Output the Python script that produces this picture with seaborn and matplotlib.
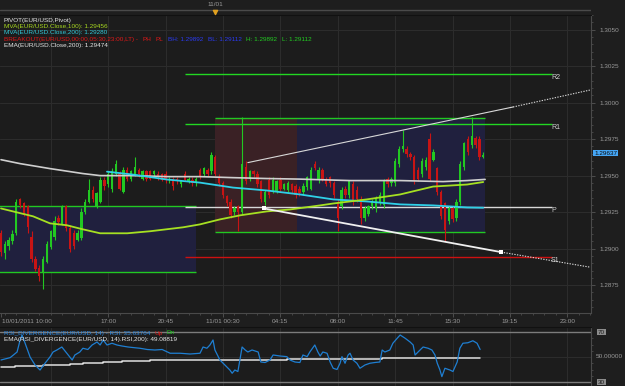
import numpy as np
import pandas as pd
import matplotlib
matplotlib.use("Agg")
import matplotlib.pyplot as plt
import seaborn as sns
from matplotlib.patches import Rectangle

# ---------------- data (15-minute EUR/USD candles, index 0 = 10/01 10:00) ----------------
opens = [1.2911, 1.2897, 1.2902, 1.2905, 1.2911, 1.2934, 1.2931, 1.2929, 1.2908, 1.2893,
         1.2887, 1.2883, 1.2891, 1.2901, 1.2908, 1.2921, 1.2917, 1.2929, 1.2914, 1.2911,
         1.2906, 1.2907, 1.2925, 1.2932, 1.2940, 1.2929, 1.2932, 1.2947, 1.2944, 1.2941,
         1.2951, 1.2951, 1.2939, 1.2954, 1.2948, 1.2951, 1.2954, 1.2948, 1.2953, 1.2953,
         1.2951, 1.2951, 1.2951, 1.2951, 1.2947, 1.2948, 1.2948, 1.2944, 1.2951, 1.2946,
         1.2947, 1.2945, 1.2954, 1.2951, 1.2954, 1.2953, 1.2963, 1.2949, 1.2945, 1.2936,
         1.2932, 1.2925, 1.2929, 1.2925, 1.2956, 1.2948, 1.2953, 1.2951, 1.2946, 1.2932,
         1.2947, 1.2939, 1.2939, 1.2947, 1.2941, 1.2940, 1.2944, 1.2943, 1.2941, 1.2939,
         1.2942, 1.2941, 1.2958, 1.2947, 1.2954, 1.2948, 1.2949, 1.2945, 1.2931, 1.2929,
         1.2941, 1.2937, 1.2944, 1.2940, 1.2934, 1.2921, 1.2924, 1.2929, 1.2928, 1.2932,
         1.2930, 1.2948, 1.2945, 1.2945, 1.2958, 1.2968, 1.2968, 1.2965, 1.2963, 1.2954,
         1.2951, 1.2956, 1.2975, 1.2961, 1.2955, 1.2939, 1.2931, 1.2919, 1.2928, 1.2921,
         1.2932, 1.2956, 1.2975, 1.2971, 1.2976, 1.2975, 1.2963]
closes = [1.2898, 1.2903, 1.2906, 1.2910, 1.2932, 1.2930, 1.2924, 1.2915, 1.2893, 1.2886,
          1.2881, 1.2893, 1.2903, 1.2912, 1.2919, 1.2918, 1.2929, 1.2914, 1.2900, 1.2902,
          1.2911, 1.2925, 1.2932, 1.2940, 1.2934, 1.2938, 1.2947, 1.2943, 1.2951, 1.2953,
          1.2958, 1.2941, 1.2954, 1.2948, 1.2953, 1.2956, 1.2951, 1.2953, 1.2948, 1.2948,
          1.2953, 1.2949, 1.2947, 1.2948, 1.2948, 1.2943, 1.2946, 1.2946, 1.2947, 1.2948,
          1.2945, 1.2948, 1.2949, 1.2955, 1.2951, 1.2964, 1.2951, 1.2945, 1.2937, 1.2931,
          1.2923, 1.2928, 1.2925, 1.2958, 1.2946, 1.2953, 1.2951, 1.2944, 1.2934, 1.2939,
          1.2937, 1.2947, 1.2946, 1.2941, 1.2944, 1.2945, 1.2940, 1.2937, 1.2938, 1.2943,
          1.2949, 1.2954, 1.2955, 1.2954, 1.2948, 1.2944, 1.2945, 1.2937, 1.2921, 1.2940,
          1.2937, 1.2946, 1.2932, 1.2934, 1.2921, 1.2928, 1.2929, 1.2932, 1.2934, 1.2937,
          1.2946, 1.2944, 1.2948, 1.2960, 1.2968, 1.2970, 1.2965, 1.2963, 1.2946, 1.2948,
          1.2960, 1.2961, 1.2948, 1.2966, 1.2939, 1.2922, 1.2913, 1.2928, 1.2920, 1.2932,
          1.2958, 1.2972, 1.2966, 1.2977, 1.2971, 1.2963, 1.2964]
highs = [1.2913, 1.2905, 1.2908, 1.2913, 1.2934, 1.2935, 1.2932, 1.2930, 1.2912, 1.2895,
         1.2889, 1.2895, 1.2905, 1.2913, 1.2922, 1.2923, 1.2930, 1.2930, 1.2916, 1.2913,
         1.2913, 1.2928, 1.2934, 1.2948, 1.2943, 1.2939, 1.2949, 1.2949, 1.2953, 1.2955,
         1.2961, 1.2953, 1.2956, 1.2956, 1.2954, 1.2963, 1.2955, 1.2954, 1.2954, 1.2954,
         1.2954, 1.2953, 1.2952, 1.2953, 1.2949, 1.2949, 1.2949, 1.2947, 1.2953, 1.2949,
         1.2949, 1.2949, 1.2955, 1.2956, 1.2955, 1.2966, 1.2964, 1.2951, 1.2946, 1.2937,
         1.2934, 1.2929, 1.2930, 1.2990, 1.2960, 1.2954, 1.2954, 1.2953, 1.2947, 1.2940,
         1.2949, 1.2949, 1.2947, 1.2949, 1.2945, 1.2946, 1.2945, 1.2944, 1.2943, 1.2945,
         1.2950, 1.2956, 1.2960, 1.2956, 1.2955, 1.2949, 1.2950, 1.2946, 1.2934, 1.2942,
         1.2943, 1.2947, 1.2946, 1.2943, 1.2936, 1.2929, 1.2930, 1.2934, 1.2936, 1.2939,
         1.2948, 1.2949, 1.2949, 1.2962, 1.2970, 1.2981, 1.2970, 1.2966, 1.2964, 1.2956,
         1.2962, 1.2963, 1.2979, 1.2968, 1.2956, 1.2940, 1.2932, 1.2929, 1.2929, 1.2934,
         1.2960, 1.2973, 1.2977, 1.2990, 1.2977, 1.2977, 1.2966]
lows = [1.2895, 1.2893, 1.2899, 1.2903, 1.2909, 1.2928, 1.2922, 1.2911, 1.2891, 1.2885,
        1.2878, 1.2872, 1.2890, 1.2900, 1.2906, 1.2916, 1.2916, 1.2912, 1.2898, 1.2900,
        1.2905, 1.2906, 1.2924, 1.2931, 1.2932, 1.2928, 1.2931, 1.2940, 1.2942, 1.2939,
        1.2950, 1.2940, 1.2938, 1.2946, 1.2946, 1.2950, 1.2949, 1.2947, 1.2946, 1.2947,
        1.2949, 1.2947, 1.2946, 1.2945, 1.2945, 1.2940, 1.2944, 1.2942, 1.2946, 1.2945,
        1.2943, 1.2943, 1.2948, 1.2950, 1.2950, 1.2951, 1.2950, 1.2943, 1.2935, 1.2929,
        1.2921, 1.2923, 1.2912, 1.2924, 1.2944, 1.2946, 1.2949, 1.2942, 1.2932, 1.2930,
        1.2935, 1.2938, 1.2938, 1.2939, 1.2940, 1.2939, 1.2938, 1.2935, 1.2936, 1.2937,
        1.2940, 1.2940, 1.2954, 1.2945, 1.2946, 1.2943, 1.2942, 1.2935, 1.2912, 1.2927,
        1.2935, 1.2935, 1.2930, 1.2932, 1.2917, 1.2919, 1.2922, 1.2927, 1.2925, 1.2930,
        1.2928, 1.2942, 1.2943, 1.2943, 1.2956, 1.2966, 1.2963, 1.2961, 1.2944, 1.2946,
        1.2949, 1.2954, 1.2946, 1.2960, 1.2937, 1.2920, 1.2905, 1.2917, 1.2918, 1.2919,
        1.2930, 1.2954, 1.2964, 1.2969, 1.2969, 1.2961, 1.2962]
current_price = 1.29637

# moving averages (candle index, price)
mva100_t = [0, 4.2, 8.4, 12.8, 17.2, 21.4, 25.9, 33, 39, 47.6, 52, 57.2, 62.5, 69.5, 75.5,
            83.4, 86.8, 95.6, 104.3, 112.9, 121.8, 126]
mva100 = [1.29275, 1.29248, 1.29221, 1.29173, 1.29160, 1.29132, 1.29105, 1.29105, 1.29119,
          1.29146, 1.29166, 1.29200, 1.29228, 1.29255, 1.29268, 1.29296, 1.29309, 1.29337,
          1.29371, 1.29425, 1.29439, 1.29456]
mva200_t = [27.7, 34.5, 43.4, 52, 60.6, 69.5, 78.1, 86.8, 95.6, 104.3, 112.9, 121.8, 126]
mva200 = [1.29527, 1.29507, 1.29473, 1.29452, 1.29418, 1.29398, 1.29371, 1.29337, 1.29323,
          1.29303, 1.29296, 1.29282, 1.29280]
ema200_t = [0, 5, 12.8, 21.4, 25.9, 34.5, 43.4, 52, 60.6, 69.5, 78.1, 91.2, 104.3, 115.5,
            121.8, 126.5]
ema200 = [1.29609, 1.29582, 1.29548, 1.29514, 1.29500, 1.29500, 1.29493, 1.29493, 1.29486,
          1.29480, 1.29476, 1.29466, 1.29466, 1.29459, 1.29466, 1.29474]

# pivots
pivot_names = ["R2", "R1", "P", "S1"]
pivot_levels = [1.30195, 1.29852, 1.29285, 1.28942]
pivot_span = [48, 144]
# breakout ranges
prev_box = [-1, 51, 1.28840, 1.29290]
range_box = [56, 77.3]
trade_box = [77.3, 126.5]
breakout_hl = [1.29892, 1.29112]
# trend lines (index, price)
trend_up_t = [64.5, 133.8, 153.9]
trend_up = [1.29589, 1.29970, 1.30086]
trend_dn_t = [68.7, 130.7, 153.9]
trend_dn = [1.29275, 1.28976, 1.28873]

# RSI panel
rsi_t = [0, 2.4, 4.2, 5.0, 5.5, 6.3, 7.6, 8.9, 10.2, 11.5,
         12.8, 13.6, 14.6, 15.9, 17.2, 18.6, 19.3, 20.6, 21.4, 22.7,
         23.8, 25.1, 25.9, 26.7, 27.7, 29.0, 30.3, 31.6, 33.2, 35.0,
         36.3, 38.2, 40.2, 42.1, 44.2, 46.8, 49.4, 52.0, 52.8, 53.8,
         54.6, 55.4, 55.9, 57.2, 58.5, 59.8, 60.4, 61.1, 61.9, 62.5,
         63.0, 63.8, 64.5, 65.6, 67.2, 67.9, 69.0, 70.3, 71.1, 72.9,
         74.7, 75.5, 76.8, 78.1, 78.9, 80.0, 80.7, 82.0, 82.8, 83.4,
         84.1, 85.2, 86.0, 86.8, 87.8, 88.6, 89.1, 89.9, 90.7, 91.2,
         92.0, 93.0, 93.8, 95.1, 96.4, 97.7, 99.0, 99.6, 100.3, 101.6,
         102.4, 103.5, 104.3, 105.6, 106.9, 107.7, 108.2, 109.5, 110.3, 111.6,
         112.6, 113.4, 114.0, 114.7, 115.2, 116.0, 117.3, 118.1, 119.2, 119.9,
         120.7, 122.0, 123.3, 124.4, 125.2]
rsi_vals = [47.6, 49.5, 54.0, 63.6, 67.6, 61.0, 50.0, 43.6, 39.6, 45.0,
            50.0, 54.0, 55.6, 58.0, 53.0, 47.6, 51.6, 54.0, 57.0, 56.0,
            59.6, 62.0, 59.6, 63.6, 59.6, 61.0, 59.6, 58.8, 58.0, 57.4,
            57.0, 56.0, 55.6, 56.0, 53.0, 53.0, 52.4, 53.0, 58.0, 57.0,
            59.6, 63.6, 55.6, 47.6, 43.6, 39.6, 37.0, 39.6, 38.4, 49.0,
            58.0, 55.6, 54.0, 55.6, 54.0, 46.0, 45.6, 47.6, 51.6, 50.8,
            50.3, 47.6, 46.0, 45.6, 51.6, 50.3, 54.0, 59.6, 54.0, 50.8,
            54.0, 53.0, 46.0, 41.0, 40.0, 45.0, 50.3, 45.0, 51.6, 53.0,
            47.6, 45.0, 41.0, 43.6, 45.0, 45.6, 46.0, 55.6, 54.0, 55.6,
            61.0, 64.9, 67.6, 65.0, 62.0, 59.6, 51.6, 55.6, 58.0, 57.0,
            55.6, 51.6, 45.0, 39.6, 34.3, 41.0, 39.6, 38.4, 46.0, 57.0,
            61.0, 61.4, 63.0, 61.0, 56.0]
ema_rsi_t = [0, 3.7, 11.0, 18.0, 21.4, 26.7, 31.6, 39.0, 44.2, 74.7, 99.6, 125.2]
ema_rsi = [41.8, 42.6, 43.4, 44.2, 45.0, 45.8, 46.6, 47.4, 48.0, 48.5, 49.1, 49.1]

price_ticks = [1.2875, 1.2900, 1.2925, 1.2950, 1.2975, 1.3000, 1.3025, 1.3050]
time_labels = ["10/01/2011 10:00", "17:00", "20:45", "11/01 00:30", "04:15", "08:00",
               "11:45", "15:30", "19:15", "23:00"]
time_label_idx = [0, 28, 43, 58, 73, 88, 103, 118, 133, 148]

# ---------------- styling ----------------
sns.set_theme(style="dark")
plt.rcParams['font.family'] = ['Liberation Sans', 'DejaVu Sans']
FS = 4.6
BG = '#1e1e1e'
PANEL = '#1c1c1c'
GRID = '#2c2c2c'
TXT = '#9a9a9a'
GREEN = '#22c822'
RED = '#c81414'

W, H = 625, 386
fig = plt.figure(figsize=(6.25, 3.86), dpi=100)
fig.patch.set_facecolor(BG)
renderer = fig.canvas.get_renderer()


def fx(px):
    return px / W


def fy(py):
    return 1 - py / H


def ftext(px, py, s, color, ha='left', **kw):
    return fig.text(fx(px), fy(py), s, color=color, ha=ha, va='center', fontsize=FS, **kw)


def seq_text(px, py, pieces, gap=4):
    x = px
    for s, col in pieces:
        t = ftext(x, py, s, col)
        bb = t.get_window_extent(renderer)
        x = bb.x1 + gap


XL = (-0.26, 154.17)
ax = fig.add_axes([0, fy(313), fx(591), (313 - 15) / H])
ax.set_facecolor(PANEL)
ax.set_xlim(*XL)
ax.set_ylim(1.28559, 1.30589)

grid_x = np.arange(13, 155, 15)
for g in grid_x:
    ax.axvline(g, color=GRID, lw=0.8, zorder=0)
for p in price_ticks:
    ax.axhline(p, color=GRID, lw=0.8, zorder=0)

# breakout boxes
ax.add_patch(Rectangle((prev_box[0], prev_box[2]), prev_box[1] - prev_box[0],
                       prev_box[3] - prev_box[2], color='#20203e', lw=0, zorder=1))
ax.add_patch(Rectangle((range_box[0], breakout_hl[1]), range_box[1] - range_box[0],
                       breakout_hl[0] - breakout_hl[1], color='#3a2125', lw=0, zorder=1))
ax.add_patch(Rectangle((trade_box[0], breakout_hl[1]), trade_box[1] - trade_box[0],
                       breakout_hl[0] - breakout_hl[1], color='#20203e', lw=0, zorder=1))
ax.hlines([prev_box[2], prev_box[3]], prev_box[0], prev_box[1], colors=GREEN, lw=1, zorder=2)
ax.hlines(breakout_hl, range_box[0], trade_box[1], colors=GREEN, lw=1, zorder=2)

# pivots
piv_colors = ['#22d822', '#22d822', '#d8d8d8', '#cc1111']
for name, lev, c in zip(pivot_names, pivot_levels, piv_colors):
    ax.hlines(lev, pivot_span[0], pivot_span[1], colors=c, lw=1, zorder=2)
    ax.text(pivot_span[1] - 0.3, lev, name, color='#d0d0d0', fontsize=FS + 0.4,
            ha='left', va='top', zorder=5)

# candles
o = np.array(opens); c = np.array(closes); hi = np.array(highs); lo = np.array(lows)
idx = np.arange(len(o))
cols = np.where(c >= o, GREEN, RED)
ax.vlines(idx, lo, hi, colors=cols, lw=0.8, zorder=3)
body = np.where(np.abs(c - o) < 0.00003, 0.00003, c - o)
ax.bar(idx, body, bottom=o, width=0.62, color=cols, linewidth=0, zorder=4)

# moving averages
sns.lineplot(x=ema200_t, y=ema200, ax=ax, color='#cfcfcf', lw=1.2, zorder=5)
sns.lineplot(x=mva200_t, y=mva200, ax=ax, color='#2fd0e8', lw=1.3, zorder=5)
sns.lineplot(x=mva100_t, y=mva100, ax=ax, color='#a6e022', lw=1.3, zorder=5)

# trend lines
ax.plot(trend_up_t[:2], trend_up[:2], color='#d8d8d8', lw=0.8, zorder=6)
ax.plot(trend_up_t[1:], trend_up[1:], color='#d8d8d8', lw=0.8, ls=(0, (1.2, 1.2)), zorder=6)
ax.plot(trend_dn_t[:2], trend_dn[:2], color='#f0f0f0', lw=1.3, zorder=6)
ax.plot(trend_dn_t[1:], trend_dn[1:], color='#d8d8d8', lw=0.8, ls=(0, (1.2, 1.2)), zorder=6)
ax.scatter(trend_dn_t[:2], trend_dn[:2], marker='s', s=7, color='white', zorder=7, linewidths=0)

# axes styling
ax.spines['left'].set_visible(False)
ax.spines['top'].set_color('#111111')
ax.spines['bottom'].set_color('#4a4a4a')
ax.spines['right'].set_color('#4a4a4a')
for s in ax.spines.values():
    s.set_linewidth(0.8)
ax.yaxis.tick_right()
ax.set_yticks(price_ticks)
ax.set_yticklabels([f"{p:.4f}" for p in price_ticks])
ax.set_yticks(np.arange(1.2860, 1.3060, 0.0005), minor=True)
ax.tick_params(axis='y', which='major', length=3, width=0.6, color='#555555', pad=3,
               labelsize=FS, labelcolor=TXT, right=True, left=False)
ax.tick_params(axis='y', which='minor', length=1.5, width=0.5, color='#555555', right=True, left=False)
ax.set_xticks(time_label_idx)
ax.set_xticklabels([])
ax.set_xticks(np.arange(1, 155, 3), minor=True)
ax.tick_params(axis='x', which='major', length=3, width=0.6, color='#555555', bottom=True)
ax.tick_params(axis='x', which='minor', length=1.5, width=0.5, color='#555555', bottom=True)
ax.set_xlabel(''); ax.set_ylabel('')
ax.grid(False)

for lab, i in zip(time_labels, time_label_idx):
    ax.text(i + (0.3 if i == 0 else 0), -8.5 / 298, lab, transform=ax.get_xaxis_transform(),
            color=TXT, fontsize=FS, ha='left' if i == 0 else 'center', va='center', clip_on=False)

# current price tag
ftext(594, 153, f"{current_price:.5f}", '#0a0a0a',
      bbox=dict(boxstyle='square,pad=0.12', fc='#45a6f5', ec='none'))

# top strip
axt = fig.add_axes([0, fy(15), fx(591), 15 / H])
axt.set_xlim(*XL); axt.set_ylim(15, 0)
axt.set_facecolor(BG)
axt.axis('off')
axt.axhline(9.5, color='#4a4a4a', lw=1)
axt.text(56, 4.5, "11/01", color=TXT, fontsize=FS, ha='center', va='center')
axt.scatter([56], [11.5], marker='v', s=9, color='#e0a020', zorder=5, clip_on=False)

# legends
ftext(4, 20.5, "PIVOT(EUR/USD,Pivot)", '#e6e6e6')
ftext(4, 26.7, "MVA(EUR/USD.Close,100): 1.29456", '#a8d820')
ftext(4, 32.9, "MVA(EUR/USD.Close,200): 1.29280", '#30c8d8')
seq_text(4, 39.1, [("BREAKOUT(EUR/USD,00:00,05:30,23:00,LT) -", '#e01818'),
                   ("PH", '#e01818'), ("PL", '#e01818'),
                   ("BH: 1.29892", '#2a3af0'), ("BL: 1.29112", '#2a3af0'),
                   ("H: 1.29892", '#22cc22'), ("L: 1.29112", '#22cc22')], gap=4.5)
ftext(4, 45.3, "EMA(EUR/USD.Close,200): 1.29474", '#e6e6e6')

# ---------------- RSI panel ----------------
ax2 = fig.add_axes([0, 0, fx(591), fy(327)])
ax2.set_facecolor(PANEL)
ax2.set_xlim(*XL)
ax2.set_ylim(26.8, 74)
for g in grid_x:
    ax2.axvline(g, color=GRID, lw=0.8, zorder=0)
ax2.axhline(50, color=GRID, lw=0.8, zorder=0)
ax2.axhline(70, color='#7c7c7c', lw=1, zorder=1)
ax2.axhline(30, color='#7c7c7c', lw=1, zorder=1)
ax2.plot(ema_rsi_t, ema_rsi, color='#e0e0e0', lw=1.1, drawstyle='steps-post', zorder=3)
sns.lineplot(x=rsi_t, y=rsi_vals, ax=ax2, color='#1f7fd2', lw=0.9, zorder=4)
ax2.set_xlabel(''); ax2.set_ylabel('')
ax2.set_xticks([]); ax2.set_yticks([])
ax2.grid(False)
ax2.spines['left'].set_visible(False)
ax2.spines['bottom'].set_visible(False)
ax2.spines['top'].set_color('#111111')
ax2.spines['right'].set_color('#4a4a4a')
for s in ax2.spines.values():
    s.set_linewidth(0.8)
ax2.yaxis.tick_right()
ax2.set_yticks([35, 40, 45, 55, 60, 65], minor=True)
ax2.tick_params(axis='y', which='minor', length=1.5, width=0.5, color='#555555', right=True, left=False)

ftext(598, 332, "70", '#1e1e1e', bbox=dict(boxstyle='square,pad=0.1', fc='#8c8c8c', ec='none'))
ftext(596, 357, "50.00000", TXT)
ftext(598, 382, "30", '#1e1e1e', bbox=dict(boxstyle='square,pad=0.1', fc='#8c8c8c', ec='none'))

seq_text(4, 333, [("RSI_DIVERGENCE(EUR/USD, 14) - RSI: 35.63764", '#2a86e0'),
                  ("Up", '#e01818'), ("Dn", '#22cc22')], gap=4)
ftext(4, 339.5, "EMA(RSI_DIVERGENCE(EUR/USD, 14).RSI,200): 49.08819", '#e6e6e6')

fig.savefig("out.png", dpi=100, facecolor=BG)
